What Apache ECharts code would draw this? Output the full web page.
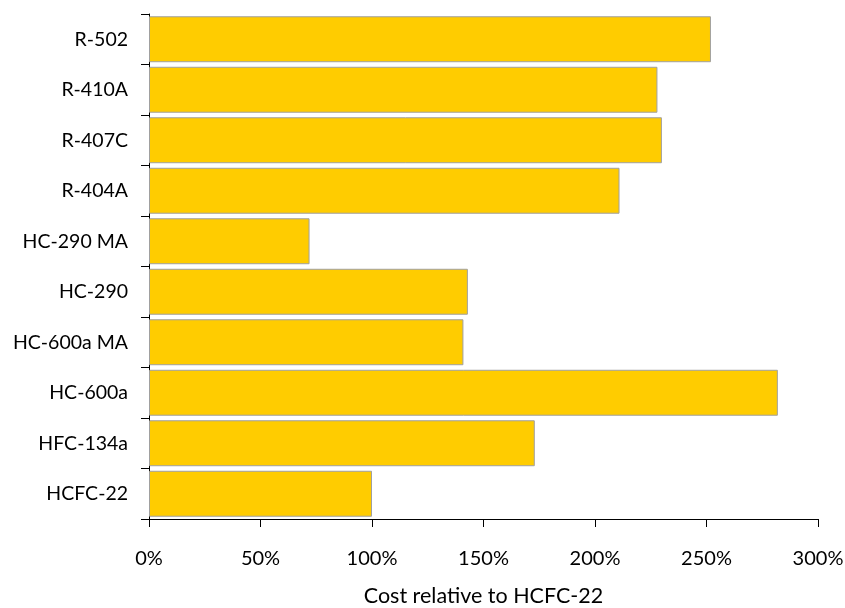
<!DOCTYPE html>
<html>
<head>
<meta charset="utf-8">
<script src="https://cdn.jsdelivr.net/npm/echarts@6/dist/echarts.min.js"></script>
<style>
  html, body { margin: 0; padding: 0; background: #fff; }
  #chart { width: 845px; height: 608px; }
</style>
</head>
<body>
<div id="chart"></div>
<script>
// Refrigerants, listed bottom to top
const refrigerants = ['HCFC-22', 'HFC-134a', 'HC-600a', 'HC-600a MA', 'HC-290', 'HC-290 MA', 'R-404A', 'R-407C', 'R-410A', 'R-502'];
// Cost relative to HCFC-22, in percent
const relativeCost = [100, 173, 282, 141, 143, 72, 211, 230, 228, 252];
// Horizontal axis range, in percent
const costTicks = { min: 0, max: 300, step: 50 };

const font = 'Lato, "Open Sans", sans-serif';
const chart = echarts.init(document.getElementById('chart'));
chart.setOption({
  animation: false,
  grid: { left: 149, right: 27, top: 14, bottom: 89, containLabel: false, outerBoundsMode: 'none' },
  xAxis: {
    type: 'value',
    min: costTicks.min,
    max: costTicks.max,
    interval: costTicks.step,
    name: 'Cost relative to HCFC-22',
    nameLocation: 'middle',
    nameGap: 66,
    nameTextStyle: { color: '#000', fontSize: 21.5, fontFamily: font },
    axisLine: { show: true, lineStyle: { color: '#000', width: 1 } },
    axisTick: { show: true, length: 8, lineStyle: { color: '#000' } },
    axisLabel: { color: '#000', fontSize: 20, fontFamily: font, margin: 30, formatter: v => v + '%' },
    splitLine: { show: false }
  },
  yAxis: {
    type: 'category',
    data: refrigerants,
    axisLine: { show: true, lineStyle: { color: '#000', width: 1 } },
    axisTick: { show: true, length: 8, alignWithLabel: false, lineStyle: { color: '#000' } },
    axisLabel: { color: '#000', fontSize: 19.5, fontFamily: font, margin: 21 }
  },
  series: [{
    type: 'bar',
    data: relativeCost,
    barCategoryGap: '9%',
    itemStyle: { color: '#FFCC00', borderColor: '#A0A0A0', borderWidth: 1 }
  }]
});
</script>
</body>
</html>
